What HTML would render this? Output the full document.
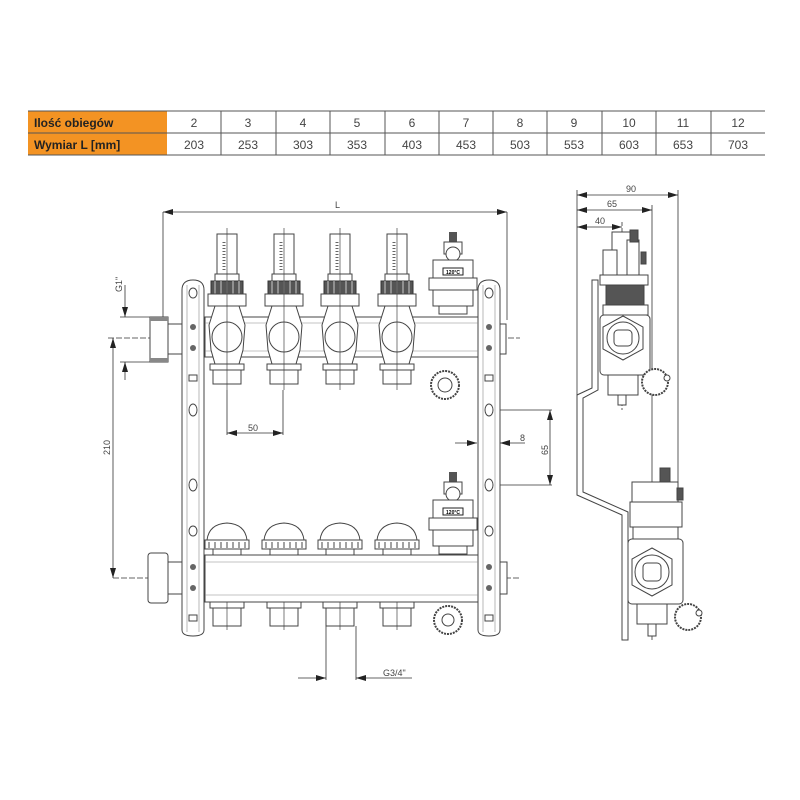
<!DOCTYPE html>
<html><head><meta charset="utf-8"><style>
html,body{margin:0;padding:0;background:#fff}
svg{display:block}
text{font-family:"Liberation Sans",sans-serif}
</style></head><body>
<svg width="800" height="800" viewBox="0 0 800 800" xmlns="http://www.w3.org/2000/svg">
<defs>
<marker id="a" viewBox="0 0 10 6" refX="10" refY="3" markerWidth="10" markerHeight="6" orient="auto-start-reverse" markerUnits="userSpaceOnUse"><path d="M0,0L10,3L0,6z" fill="#222"/></marker>
<g id="fm">
<rect x="-10" y="234" width="20" height="40" fill="#fff" stroke="#444"/>
<line x1="-3" y1="242" x2="-3" y2="270" stroke="#666" stroke-width="3" stroke-dasharray="1 2"/>
<rect x="-12" y="274" width="24" height="7" fill="#fff" stroke="#444"/>
<rect x="-16" y="281" width="32" height="13" fill="#555" stroke="#333"/>
<line x1="-12" y1="281" x2="-12" y2="294" stroke="#ccc"/><line x1="-6" y1="281" x2="-6" y2="294" stroke="#ccc"/><line x1="0" y1="281" x2="0" y2="294" stroke="#ccc"/><line x1="6" y1="281" x2="6" y2="294" stroke="#ccc"/><line x1="12" y1="281" x2="12" y2="294" stroke="#ccc"/>
<rect x="-19" y="294" width="38" height="12" fill="#fff" stroke="#444"/>
<path d="M-12,306 L12,306 L18,325 L16,350 L12,364 L-12,364 L-16,350 L-18,325 Z" fill="#fff" stroke="#444"/>
<circle cx="0" cy="337" r="15" fill="#fff" stroke="#444"/>
<rect x="-17" y="364" width="34" height="6" fill="#fff" stroke="#444"/>
<rect x="-14" y="370" width="28" height="14" fill="#fff" stroke="#444"/>
<line x1="0" y1="228" x2="0" y2="390" stroke="#444" stroke-width="0.7"/>
</g>
<g id="cap">
<path d="M-20,540 Q-18,524 0,523 Q18,524 20,540 Z" fill="#fff" stroke="#444"/>
<rect x="-22" y="540" width="44" height="9" fill="#fff" stroke="#444"/>
<path d="M-18,542v6M-12,542v6M-6,542v6M0,542v6M6,542v6M12,542v6M18,542v6" stroke="#444"/>
<rect x="-14" y="549" width="28" height="6" fill="#fff" stroke="#444"/>
<rect x="-17" y="602" width="34" height="6" fill="#fff" stroke="#444"/>
<rect x="-14" y="608" width="28" height="18" fill="#fff" stroke="#444"/>
<line x1="0" y1="602" x2="0" y2="630" stroke="#444" stroke-width="0.7"/>
</g>
<g id="sv">
<rect x="-4" y="-28" width="8" height="10" fill="#555"/>
<rect x="-9" y="-18" width="18" height="12" fill="#fff" stroke="#444"/>
<circle cx="0" cy="-6" r="7" fill="#fff" stroke="#444"/>
<path d="M-20,18 L-20,0 L20,0 L20,18 Z" fill="#fff" stroke="#444"/>
<rect x="-10" y="8" width="20" height="7" fill="#fff" stroke="#222"/>
<text x="0" y="14" font-size="5" text-anchor="middle" font-weight="bold">120°C</text>
<rect x="-24" y="18" width="48" height="12" fill="#fff" stroke="#444"/>
<rect x="-20" y="30" width="40" height="16" fill="#fff" stroke="#444"/>
<rect x="-14" y="46" width="28" height="8" fill="#fff" stroke="#444"/>
</g>
<g id="br">
<path d="M0,10 Q0,0 11,0 Q22,0 22,10 L22,350 Q22,356 11,356 Q0,356 0,350 Z" fill="#fff" stroke="#444"/>
<line x1="5" y1="5" x2="5" y2="352" stroke="#888" stroke-width="0.6"/><line x1="17" y1="5" x2="17" y2="352" stroke="#888" stroke-width="0.6"/>
</g>
</defs>

<!-- table -->
<rect x="28" y="111" width="139" height="44" fill="#f39323"/>
<g stroke="#555" stroke-width="1">
<line x1="28" y1="111" x2="765" y2="111"/><line x1="28" y1="133" x2="765" y2="133"/><line x1="28" y1="155" x2="765" y2="155"/>
<line x1="221" y1="111" x2="221" y2="155"/><line x1="276" y1="111" x2="276" y2="155"/><line x1="330" y1="111" x2="330" y2="155"/><line x1="385" y1="111" x2="385" y2="155"/><line x1="439" y1="111" x2="439" y2="155"/><line x1="493" y1="111" x2="493" y2="155"/><line x1="547" y1="111" x2="547" y2="155"/><line x1="602" y1="111" x2="602" y2="155"/><line x1="656" y1="111" x2="656" y2="155"/><line x1="711" y1="111" x2="711" y2="155"/>
</g>
<g font-size="12" fill="#222">
<text x="34" y="127" font-weight="bold">Ilość obiegów</text>
<text x="34" y="149" font-weight="bold">Wymiar L [mm]</text>
<g text-anchor="middle" fill="#444">
<text x="194" y="127">2</text><text x="248" y="127">3</text><text x="303" y="127">4</text><text x="357" y="127">5</text><text x="412" y="127">6</text><text x="466" y="127">7</text><text x="520" y="127">8</text><text x="574" y="127">9</text><text x="629" y="127">10</text><text x="683" y="127">11</text><text x="738" y="127">12</text>
<text x="194" y="149">203</text><text x="248" y="149">253</text><text x="303" y="149">303</text><text x="357" y="149">353</text><text x="412" y="149">403</text><text x="466" y="149">453</text><text x="520" y="149">503</text><text x="574" y="149">553</text><text x="629" y="149">603</text><text x="683" y="149">653</text><text x="738" y="149">703</text>
</g></g>

<!-- dimensions front -->
<g stroke="#333" stroke-width="0.8" fill="none">
<line x1="163" y1="212" x2="163" y2="320"/><line x1="507" y1="212" x2="507" y2="320"/>
<line x1="163" y1="212" x2="507" y2="212" marker-start="url(#a)" marker-end="url(#a)"/>
<line x1="120" y1="317" x2="150" y2="317"/><line x1="120" y1="362" x2="150" y2="362"/>
<line x1="125" y1="285" x2="125" y2="317" marker-end="url(#a)"/><line x1="125" y1="380" x2="125" y2="362" marker-end="url(#a)"/>
<line x1="108" y1="338" x2="520" y2="338" stroke-dasharray="6 2"/>
<line x1="113" y1="338" x2="113" y2="578" marker-start="url(#a)" marker-end="url(#a)"/>
<line x1="113" y1="578" x2="520" y2="578" stroke-dasharray="6 2"/>
<line x1="227" y1="390" x2="227" y2="435"/><line x1="283" y1="390" x2="283" y2="435"/>
<line x1="227" y1="433" x2="283" y2="433" marker-start="url(#a)" marker-end="url(#a)"/>
<line x1="489" y1="410" x2="552" y2="410"/><line x1="489" y1="485" x2="552" y2="485"/>
<line x1="550" y1="410" x2="550" y2="485" marker-start="url(#a)" marker-end="url(#a)"/>
<line x1="455" y1="443" x2="477" y2="443" marker-end="url(#a)"/><line x1="525" y1="443" x2="500" y2="443" marker-end="url(#a)"/>
<line x1="326" y1="626" x2="326" y2="680"/><line x1="356" y1="626" x2="356" y2="680"/>
<line x1="298" y1="678" x2="326" y2="678" marker-end="url(#a)"/><line x1="412" y1="678" x2="356" y2="678" marker-end="url(#a)"/>
</g>
<g font-size="9" fill="#444">
<text x="335" y="208">L</text>
<text x="248" y="431">50</text>
<text x="520" y="441">8</text>
<text x="383" y="676">G3/4"</text>
<text transform="translate(122,292) rotate(-90)">G1"</text>
<text transform="translate(110,455) rotate(-90)">210</text>
<text transform="translate(548,455) rotate(-90)">65</text>
</g>

<!-- brackets -->
<use href="#br" x="182" y="280"/>
<use href="#br" x="478" y="280"/>
<g fill="#fff" stroke="#444">
<ellipse cx="193" cy="293" rx="4" ry="5"/><ellipse cx="489" cy="293" rx="4" ry="5"/>
<rect x="189" y="375" width="8" height="6"/><rect x="485" y="375" width="8" height="6"/>
<ellipse cx="193" cy="410" rx="4" ry="6"/><ellipse cx="193" cy="485" rx="4" ry="6"/>
<ellipse cx="489" cy="410" rx="4" ry="6"/><ellipse cx="489" cy="485" rx="4" ry="6"/>
<ellipse cx="193" cy="531" rx="4" ry="5"/><ellipse cx="489" cy="531" rx="4" ry="5"/>
<rect x="189" y="615" width="8" height="6"/><rect x="485" y="615" width="8" height="6"/>
</g>
<g fill="#666"><circle cx="193" cy="327" r="3"/><circle cx="193" cy="348" r="3"/><circle cx="489" cy="327" r="3"/><circle cx="489" cy="348" r="3"/>
<circle cx="193" cy="567" r="3"/><circle cx="193" cy="588" r="3"/><circle cx="489" cy="567" r="3"/><circle cx="489" cy="588" r="3"/></g>

<!-- top bar -->
<rect x="205" y="317" width="273" height="40" fill="#fff" stroke="#444"/>
<line x1="205" y1="323" x2="478" y2="323" stroke="#888" stroke-width="0.6"/><line x1="205" y1="351" x2="478" y2="351" stroke="#888" stroke-width="0.6"/>
<rect x="150" y="317" width="18" height="45" fill="#fff" stroke="#444"/>
<path d="M150,317h18v4h-18zM150,358h18v4h-18z" fill="#888"/>
<rect x="168" y="324" width="14" height="30" fill="#fff" stroke="#444"/>
<rect x="500" y="324" width="6" height="30" fill="#fff" stroke="#444"/>
<use href="#fm" x="227"/><use href="#fm" x="284"/><use href="#fm" x="340"/><use href="#fm" x="397"/>
<use href="#sv" x="453" y="260"/>
<circle cx="445" cy="385" r="14" fill="#fff" stroke="#444" stroke-width="2" stroke-dasharray="2 1"/>
<circle cx="445" cy="385" r="7" fill="#fff" stroke="#444"/>

<!-- bottom bar -->
<rect x="205" y="555" width="273" height="47" fill="#fff" stroke="#444"/>
<line x1="205" y1="562" x2="478" y2="562" stroke="#888" stroke-width="0.6"/><line x1="205" y1="595" x2="478" y2="595" stroke="#888" stroke-width="0.6"/>
<rect x="148" y="553" width="20" height="50" rx="3" fill="#fff" stroke="#444"/>
<rect x="168" y="562" width="14" height="32" fill="#fff" stroke="#444"/>
<rect x="500" y="562" width="7" height="32" fill="#fff" stroke="#444"/>
<use href="#cap" x="227"/><use href="#cap" x="284"/><use href="#cap" x="340"/><use href="#cap" x="397"/>
<use href="#sv" x="453" y="500"/>
<circle cx="448" cy="620" r="14" fill="#fff" stroke="#444" stroke-width="2" stroke-dasharray="2 1"/>
<circle cx="448" cy="620" r="6" fill="#fff" stroke="#444"/>

<!-- side view dims -->
<g stroke="#333" stroke-width="0.8" fill="none">
<line x1="577" y1="190" x2="577" y2="400"/>
<line x1="577" y1="195" x2="678" y2="195" marker-start="url(#a)" marker-end="url(#a)"/>
<line x1="577" y1="210" x2="652" y2="210" marker-start="url(#a)" marker-end="url(#a)"/>
<line x1="577" y1="227" x2="622" y2="227" marker-start="url(#a)" marker-end="url(#a)"/>
<line x1="678" y1="190" x2="678" y2="500"/>
<line x1="652" y1="205" x2="652" y2="640"/>
<line x1="622" y1="222" x2="622" y2="410" stroke-dasharray="4 2"/>
</g>
<g font-size="9" fill="#444"><text x="626" y="192">90</text><text x="607" y="207">65</text><text x="595" y="224">40</text></g>
<!-- side bracket -->
<path d="M592,280 L592,388 L577,395 L577,495 L622,515 L622,640 L628,640 L628,512 L583,492 L583,398 L598,390 L598,280 Z" fill="#fff" stroke="#444"/>
<!-- side top unit -->
<g fill="#fff" stroke="#444">
<rect x="612" y="232" width="20" height="45"/>
<rect x="603" y="250" width="14" height="25"/>
<rect x="627" y="240" width="12" height="35"/>
<rect x="630" y="230" width="8" height="12" fill="#555"/>
<rect x="641" y="252" width="5" height="12" fill="#555"/>
<rect x="600" y="275" width="48" height="10"/>
<rect x="606" y="285" width="38" height="20" fill="#555"/>
<rect x="603" y="305" width="45" height="10"/>
<rect x="600" y="315" width="50" height="60" rx="4"/>
<path d="M623,316 L643,327 L643,349 L623,360 L603,349 L603,327 Z"/>
<circle cx="623" cy="338" r="16"/><rect x="614" y="330" width="18" height="16" rx="4"/>
<rect x="608" y="375" width="30" height="20"/>
<rect x="618" y="395" width="8" height="10"/>
<circle cx="655" cy="382" r="13" stroke-width="2" stroke-dasharray="2 1"/>
<circle cx="667" cy="378" r="3"/>
</g>
<!-- side bottom unit -->
<g fill="#fff" stroke="#444">
<rect x="660" y="468" width="10" height="14" fill="#555"/>
<rect x="632" y="482" width="46" height="20"/>
<rect x="677" y="488" width="6" height="12" fill="#555"/>
<rect x="630" y="502" width="52" height="25"/>
<rect x="633" y="527" width="45" height="12"/>
<rect x="628" y="539" width="55" height="65" rx="4"/>
<path d="M652,548 L672,559 L672,585 L652,596 L632,585 L632,559 Z"/>
<circle cx="652" cy="572" r="17"/><rect x="643" y="563" width="18" height="18" rx="4"/>
<rect x="637" y="604" width="30" height="20"/>
<rect x="648" y="624" width="8" height="12"/>
<circle cx="688" cy="617" r="13" stroke-width="2" stroke-dasharray="2 1"/>
<circle cx="699" cy="613" r="3"/>
</g>
</svg>
</body></html>
